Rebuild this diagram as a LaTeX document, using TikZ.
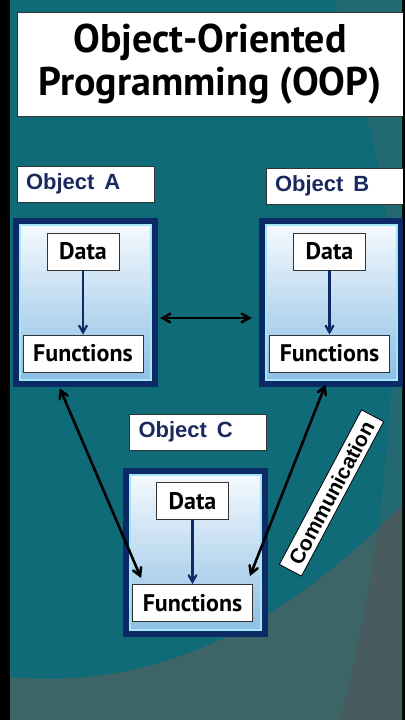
\documentclass[tikz,border=0pt]{standalone}
\usepackage{fontspec}
\setmainfont{PT Sans}
\newfontfamily\arialfont{Liberation Sans}
\usetikzlibrary{arrows,positioning}

\definecolor{bgteal}{HTML}{0F6B77}
\definecolor{bggray}{HTML}{3D6568}
\definecolor{bandtop}{HTML}{236971}
\definecolor{bandbot}{HTML}{485B5E}
\definecolor{objnavy}{HTML}{0B2A66}
\definecolor{glowcyan}{HTML}{A5E6F4}
\definecolor{shadetop}{HTML}{F4F9FD}
\definecolor{shadebot}{HTML}{8EBFE6}
\definecolor{labelnavy}{HTML}{1A2A5E}
\definecolor{fieldgray}{HTML}{333333}

\tikzset{
  objbox/.style={fill=objnavy, minimum width=145pt, minimum height=169pt, inner sep=0pt},
  objinner/.style={draw=glowcyan, line width=2.5pt, top color=shadetop, bottom color=shadebot,
    minimum width=131pt, minimum height=155pt, inner sep=0pt},
  field/.style={draw=fieldgray, line width=0.9pt, fill=white, minimum height=37pt, inner sep=0pt,
    font=\fontsize{24}{26}\selectfont\bfseries},
  objlabel/.style={draw=fieldgray, line width=0.6pt, fill=white, minimum height=36pt,
    text width=119pt, inner xsep=9pt, inner ysep=0pt, align=left, text=labelnavy,
    font=\arialfont\fontsize{22}{24}\selectfont\bfseries},
  talk/.style={<->, >=angle 60, black, line width=2.6pt},
  flow/.style={->, >=angle 60, objnavy, line width=2.2pt},
}

\begin{document}
\begin{tikzpicture}[x=1pt, y=-1pt]
  \useasboundingbox (0,0) rectangle (405,720);

  % background
  \fill[black] (0,0) rectangle (405,720);
  \fill[bgteal] (10,0) rectangle (402,720);
  \fill[bggray] (10,677) .. controls (130,688) and (260,650) .. (402,505) -- (402,720) -- (10,720) -- cycle;
  \fill[bandtop] (335,0) .. controls (365,110) and (392,190) .. (393,300)
    .. controls (394,450) and (372,600) .. (340,720) -- (402,720) -- (402,0) -- cycle;
  \begin{scope}
    \clip (10,677) .. controls (130,688) and (260,650) .. (402,505) -- (402,720) -- (10,720) -- cycle;
    \fill[bandbot] (393,300) .. controls (394,450) and (372,600) .. (340,720) -- (402,720) -- (402,300) -- cycle;
  \end{scope}

  % title
  \node[draw=fieldgray, fill=white, minimum width=386pt, minimum height=104pt, inner sep=0pt,
    align=center, font=\fontsize{40}{43}\selectfont\bfseries] (title) at (210,64)
    {Object-Oriented\\Programming (OOP)};

  % objects
  \node[objbox] (objA) at (85.5,302.5) {};
  \node[objbox] (objB) at (331.5,302.5) {};
  \node[objbox] (objC) at (195.5,552.5) {};
  \node[objinner] (inA) at (objA.center) {};
  \node[objinner] (inB) at (objB.center) {};
  \node[objinner] (inC) at (objC.center) {};

  \node[field, minimum width=72pt] (dataA) at (83,251.5) {Data};
  \node[field, minimum width=120pt] (funcA) at (83,353.5) {Functions};
  \node[field, minimum width=72pt] (dataB) at (329.5,251.5) {Data};
  \node[field, minimum width=120pt] (funcB) at (329.5,353.5) {Functions};
  \node[field, minimum width=72pt] (dataC) at (192.5,501) {Data};
  \node[field, minimum width=120pt] (funcC) at (192.5,603) {Functions};

  \node[objlabel] (labA) at (85.5,184) {Object\hspace{0.45em}A};
  \node[objlabel] (labB) at (334.5,186) {Object\hspace{0.45em}B};
  \node[objlabel] (labC) at (198,432) {Object\hspace{0.45em}C};

  \path[flow]
  (dataA) edge (funcA)
  (dataB) edge (funcB)
  (dataC) edge (funcC);

  \path[talk]
  ([xshift=2pt,yshift=-15.5pt]objA.east) edge ([xshift=-7pt,yshift=-15.5pt]objB.west)
  ([xshift=47pt,yshift=-1pt]objA.south west) edge ([xshift=9pt,yshift=6pt]funcC.north west)
  ([xshift=-4pt,yshift=-12pt]funcB.south) edge ([xshift=-3pt,yshift=8pt]funcC.north east);

  \node[draw=black, line width=0.8pt, fill=white, rotate=62, minimum width=175pt, minimum height=25pt,
    inner sep=0pt, font=\arialfont\fontsize{21}{23}\selectfont\bfseries] (comm) at (331.5,493) {Communication};

  \fill[black] (402.5,0) rectangle (405,720);
\end{tikzpicture}
\end{document}
